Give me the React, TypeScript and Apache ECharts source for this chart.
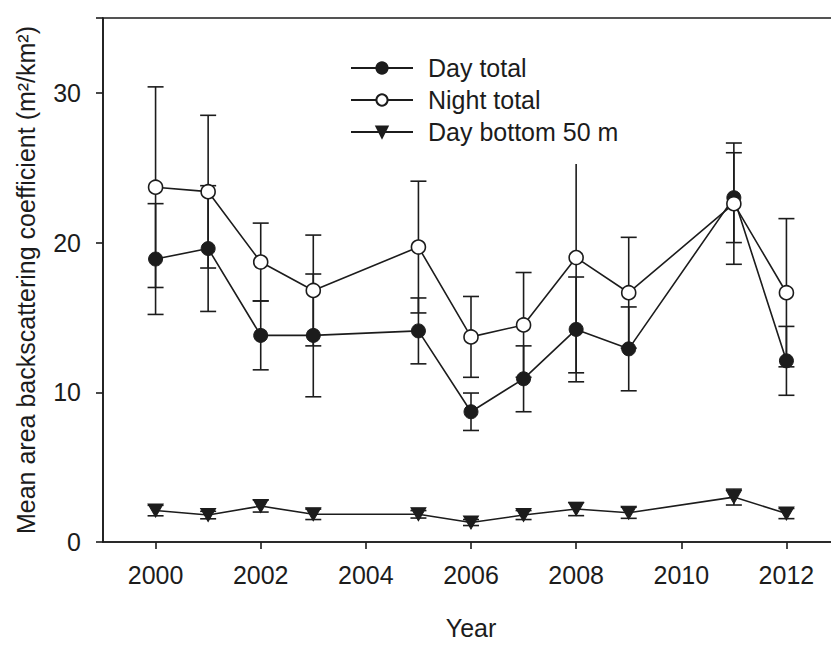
import React, { useEffect, useRef } from "react";
import * as echarts from "echarts";

const years = [2000, 2001, 2002, 2003, 2005, 2006, 2007, 2008, 2009, 2011, 2012];
const dayTotal = [18.9, 19.6, 13.8, 13.8, 14.1, 8.7, 10.9, 14.2, 12.9, 23.0, 12.1];
const dayTotalErr = [3.7, 4.2, 2.3, 4.1, 2.2, 1.25, 2.2, 3.5, 2.8, 3.0, 2.3];
const nightTotal = [23.7, 23.4, 18.7, 16.8, 19.7, 13.7, 14.5, 19.0, 16.65, 22.6, 16.65];
const nightTotalErr = [6.7, 5.1, 2.6, 3.7, 4.4, 2.7, 3.5, 7.7, 3.7, 4.05, 4.95];
const bottom50 = [2.1, 1.8, 2.4, 1.85, 1.85, 1.3, 1.8, 2.2, 1.95, 3.0, 1.9];
const bottom50Err = [0.35, 0.25, 0.4, 0.35, 0.25, 0.2, 0.3, 0.44, 0.37, 0.53, 0.34];
const xTicks = [2000, 2002, 2004, 2006, 2008, 2010, 2012];

const INK = "#1c1c1c";
const FONT = "'Liberation Sans', Arial, sans-serif";

function errData(vals: number[], errs: number[]) {
  return years.map((y, i) => [y, vals[i] - errs[i], vals[i] + errs[i]]);
}

function renderErr(capHalf: number) {
  return (params: any, api: any) => {
    const x = api.value(0);
    const lo = api.value(1);
    const hi = api.value(2);
    const pHi = api.coord([x, hi]);
    const pLo = api.coord([x, lo]);
    const style = { stroke: INK, lineWidth: 1.6 };
    return {
      type: "group",
      children: [
        { type: "line", shape: { x1: pHi[0], y1: pHi[1], x2: pLo[0], y2: pLo[1] }, style },
        { type: "line", shape: { x1: pHi[0] - capHalf, y1: pHi[1], x2: pHi[0] + capHalf, y2: pHi[1] }, style },
        { type: "line", shape: { x1: pLo[0] - capHalf, y1: pLo[1], x2: pLo[0] + capHalf, y2: pLo[1] }, style },
      ],
    };
  };
}

export default function App() {
  const ref = useRef<HTMLDivElement>(null);
  useEffect(() => {
    if (!ref.current) return;
    const chart = echarts.init(ref.current, undefined, { renderer: "svg" });
    const lineStyle = { color: INK, width: 1.6 };
    chart.setOption({
      animation: false,
      backgroundColor: "#fff",
      textStyle: { fontFamily: FONT, color: INK },
      grid: {
        left: 103,
        right: 11,
        top: 18,
        bottom: 97,
        show: true,
        borderColor: INK,
        borderWidth: 1.6,
        backgroundColor: "transparent",
      },
      legend: {
        data: ["Day total", "Night total", "Day bottom 50 m"],
        orient: "vertical",
        left: 344,
        top: 49,
        padding: [6, 8, 19, 6],
        backgroundColor: "#fff",
        itemWidth: 62,
        itemHeight: 14,
        itemGap: 6,
        textStyle: {
          fontSize: 25,
          lineHeight: 26,
          color: INK,
          fontFamily: FONT,
          padding: [0, 0, 0, 10],
        },
      },
      xAxis: {
        type: "value",
        min: 1999,
        max: 2013,
        name: "Year",
        nameLocation: "middle",
        nameGap: 73,
        nameTextStyle: { fontSize: 25, color: INK, fontFamily: FONT },
        axisLine: { show: true, lineStyle: { color: INK, width: 1.6 } },
        axisTick: { show: true, length: 7, customValues: xTicks, lineStyle: { color: INK, width: 1.6 } },
        axisLabel: {
          customValues: xTicks,
          fontSize: 25,
          color: INK,
          fontFamily: FONT,
          margin: 20,
          formatter: (v: number) => String(v),
        },
        splitLine: { show: false },
      },
      yAxis: {
        type: "value",
        min: 0,
        max: 35,
        interval: 10,
        name: "Mean area backscattering coefficient (m²/km²)",
        nameLocation: "middle",
        nameRotate: 90,
        nameGap: 65,
        nameTextStyle: { fontSize: 25, color: INK, fontFamily: FONT },
        axisLine: { show: true, lineStyle: { color: INK, width: 1.6 } },
        axisTick: { show: true, length: 7, lineStyle: { color: INK, width: 1.6 } },
        axisLabel: {
          fontSize: 25,
          color: INK,
          fontFamily: FONT,
          margin: 22,
          formatter: (v: number) => (v > 30 ? "" : String(v)),
        },
        splitLine: { show: false },
      },
      series: [
        {
          name: "errDay",
          type: "custom",
          z: 1,
          silent: true,
          renderItem: renderErr(8),
          encode: { x: 0, y: [1, 2] },
          data: errData(dayTotal, dayTotalErr),
        },
        {
          name: "errNight",
          type: "custom",
          z: 1,
          silent: true,
          renderItem: renderErr(8),
          encode: { x: 0, y: [1, 2] },
          data: errData(nightTotal, nightTotalErr),
        },
        {
          name: "errBottom",
          type: "custom",
          z: 1,
          silent: true,
          renderItem: renderErr(8),
          encode: { x: 0, y: [1, 2] },
          data: errData(bottom50, bottom50Err),
        },
        {
          name: "Day total",
          type: "line",
          z: 2,
          symbol: "circle",
          symbolSize: 14,
          lineStyle,
          itemStyle: { color: INK, borderColor: INK, borderWidth: 1 },
          data: years.map((y, i) => [y, dayTotal[i]]),
        },
        {
          name: "Night total",
          type: "line",
          z: 3,
          symbol: "circle",
          symbolSize: 14,
          lineStyle,
          itemStyle: { color: "#fff", borderColor: INK, borderWidth: 1.6 },
          data: years.map((y, i) => [y, nightTotal[i]]),
        },
        {
          name: "Day bottom 50 m",
          type: "line",
          z: 3,
          symbol: "triangle",
          symbolRotate: 180,
          symbolSize: [15, 13],
          lineStyle,
          itemStyle: { color: INK, borderColor: INK, borderWidth: 1 },
          data: years.map((y, i) => [y, bottom50[i]]),
        },
      ],
    });
    return () => chart.dispose();
  }, []);
  return (
    <div
      style={{
        position: "absolute",
        left: 0,
        top: 0,
        width: 831,
        height: 645,
        overflow: "hidden",
        background: "#fff",
      }}
    >
      <div ref={ref} style={{ width: 850, height: 645 }} />
    </div>
  );
}
